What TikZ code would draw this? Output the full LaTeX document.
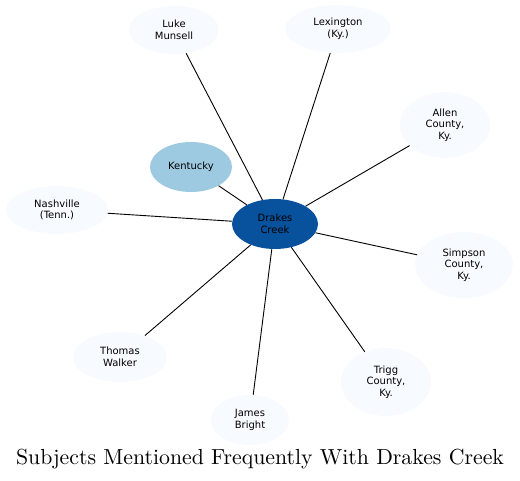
\documentclass[tikz,border=0pt]{standalone}
\usepackage{fontspec}
\newfontfamily\nodefont{DejaVu Sans}
\newfontfamily\titlefont{lmroman10-regular}[Extension=.otf]
\usetikzlibrary{shapes.geometric}
\definecolor{hub}{HTML}{08519C}
\definecolor{mid}{HTML}{9ECAE1}
\definecolor{leaf}{HTML}{F7FBFF}
\begin{document}
\begin{tikzpicture}[x=1pt,y=-1pt,
  subj/.style={ellipse,draw=none,fill=leaf,inner sep=0pt,align=center,
    font=\nodefont\fontsize{10}{11.6}\selectfont},
  link/.style={draw=black,line width=0.9pt}]
\useasboundingbox (0,0) rectangle (520,481);
\node[subj,minimum width=90,minimum height=48] (luke) at (174,30) {Luke\\Munsell};
\node[subj,minimum width=106,minimum height=48] (lex) at (338,29) {Lexington\\(Ky.)};
\node[subj,minimum width=90,minimum height=66] (allen) at (445,125) {Allen\\County,\\Ky.};
\node[subj,fill=mid,minimum width=82,minimum height=50] (ky) at (191,167) {Kentucky};
\node[subj,minimum width=102,minimum height=48] (nash) at (57,210) {Nashville\\(Tenn.)};
\node[subj,fill=hub,minimum width=86,minimum height=50] (dc) at (275,224) {Drakes\\Creek};
\node[subj,minimum width=98,minimum height=66] (simp) at (464,265) {Simpson\\County,\\Ky.};
\node[subj,minimum width=94,minimum height=50] (tw) at (120,357) {Thomas\\Walker};
\node[subj,minimum width=78,minimum height=50] (jb) at (250,420) {James\\Bright};
\node[subj,minimum width=90,minimum height=68] (trigg) at (386,382) {Trigg\\County,\\Ky.};
\foreach \n in {luke,lex,allen,ky,nash,simp,tw,jb,trigg}
  \draw[link] (dc) -- (\n);
\node[font=\titlefont\fontsize{21.8}{25}\selectfont,inner sep=0pt] (title) at (260,459) {Subjects Mentioned Frequently With Drakes Creek};
\end{tikzpicture}
\end{document}
